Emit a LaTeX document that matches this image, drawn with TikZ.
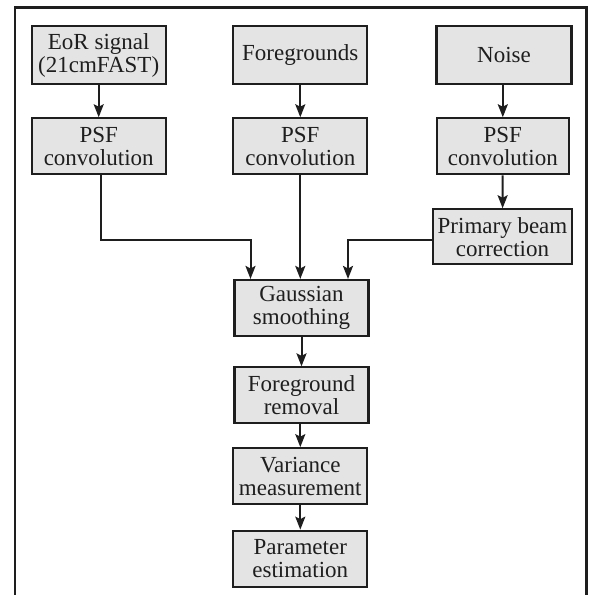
\documentclass[tikz,border=0pt]{standalone}
\usepackage{fontspec}
\setmainfont{Liberation Serif}
\usetikzlibrary{arrows.meta}
\definecolor{boxfill}{HTML}{E4E4E4}
\definecolor{ink}{HTML}{1E1E1E}
\tikzset{
  procbox/.style={draw=ink, fill=boxfill, line width=2.1pt, minimum width=134pt, minimum height=56pt,
    inner sep=0pt, align=center, text=ink, font=\fontsize{23}{23}\selectfont},
  conn/.style={draw=ink, line width=2pt, -{Stealth[length=13pt,width=10pt,inset=2.5pt]}},
}
\begin{document}
\begin{tikzpicture}[x=1pt,y=-1pt]
\useasboundingbox (0,0) rectangle (593,595);
\draw[ink, line width=2.6pt] (15,596) -- (15,7.3) -- (586.5,7.3) -- (586.5,596);

\node[procbox, minimum height=58pt] (eor) at (98.7,55) {EoR signal\\(21cmFAST)};
\node[procbox, minimum height=58pt] (fg) at (300.3,55) {Foregrounds};
\node[procbox, minimum height=58pt, minimum width=135pt] (noise) at (504,55) {Noise};

\node[procbox] (psfa) at (98.7,146.3) {PSF\\convolution};
\node[procbox] (psfb) at (300.3,146.3) {PSF\\convolution};
\node[procbox, minimum width=132pt] (psfc) at (502.8,146.3) {PSF\\convolution};

\node[procbox, minimum width=139.6pt, minimum height=55pt] (pb) at (502.5,236.8) {Primary beam\\correction};

\node[procbox] (gauss) at (301.5,308) {Gaussian\\smoothing};
\node[procbox] (fgr) at (301.5,395.4) {Foreground\\removal};
\node[procbox] (var) at (300.3,476.2) {Variance\\measurement};
\node[procbox] (par) at (300.3,558.7) {Parameter\\estimation};

\coordinate (ga) at ([xshift=-51pt]gauss.north);
\coordinate (gc) at ([xshift=46.5pt]gauss.north);
\coordinate (pbw) at ([yshift=-3.5pt]pb.west);
\coordinate (psfaout) at ([xshift=2pt]psfa.south);
\coordinate (bend) at (psfaout |- pbw);

\draw[conn] (eor) -- (psfa);
\draw[conn] (fg) -- (psfb);
\draw[conn] (noise.south -| psfc) -- (psfc);
\draw[conn] (psfc) -- (pb);
\draw[conn] (psfaout) -- (bend) -| (ga);
\draw[conn] (psfb.south) -- (psfb.south |- gauss.north);
\draw[conn] (pbw) -| (gc);
\draw[conn] (gauss.south -| fgr.north) -- (fgr.north);
\draw[conn] (fgr.south -| var.north) -- (var.north);
\draw[conn] (var) -- (par);
\end{tikzpicture}
\end{document}
